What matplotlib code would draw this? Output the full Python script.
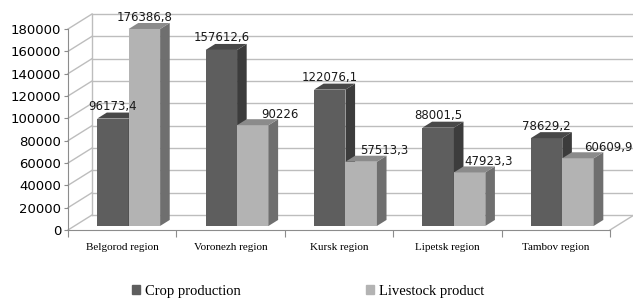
import matplotlib
matplotlib.use("Agg")
import matplotlib.pyplot as plt
from matplotlib.patches import Polygon, Patch

# data
regions = ["Belgorod region", "Voronezh region", "Kursk region", "Lipetsk region", "Tambov region"]
crop = [96173.4, 157612.6, 122076.1, 88001.5, 78629.2]
livestock = [176386.8, 90226, 57513.3, 47923.3, 60609.9]
crop_labels = ["96173,4", "157612,6", "122076,1", "88001,5", "78629,2"]
live_labels = ["176386,8", "90226", "57513,3", "47923,3", "60609,9"]
yticks = list(range(0, 180001, 20000))

# look
W, H = 633, 298
grid_c = "#bdbdbd"
axis_c = "#8c8c8c"
crop_c = ("#5e5e5e", "#3c3c3c", "#484848")   # front, side, top
live_c = ("#b3b3b3", "#6f6f6f", "#8b8b8b")
live_dx_px = [0, 27, 23, 19, 30]  # excel shoved the livestock labels sideways

fig = plt.figure(figsize=(W / 100, H / 100), dpi=100)
ax = fig.add_axes([68 / W, (H - 230) / H, 542 / W, 201 / H])
ax.set_xlim(0, 5)
ax.set_ylim(0, 180000)

# oblique "3d" offset of the back wall, in data units
DX = 24 / (542 / 5)
DY = 15 / (201 / 180000)
d0, d1 = 0.27, 0.40  # bar front depth, bar thickness (fraction of wall depth)
bw = 0.29

# walls
for v in yticks:
    ax.plot([0, DX], [v, v + DY], color=grid_c, lw=1, clip_on=False, zorder=0)
    ax.plot([DX, 5 + DX], [v + DY, v + DY], color=grid_c, lw=1, clip_on=False, zorder=0)
ax.plot([DX, DX], [DY, 180000 + DY], color=grid_c, lw=1, clip_on=False, zorder=0)
ax.plot([5, 5 + DX], [0, DY], color=grid_c, lw=1, clip_on=False, zorder=0)


def bar3d(x0, h, cols):
    fx = x0 + d0 * DX
    fy = d0 * DY
    ax.bar(fx, h, width=bw, bottom=fy, align="edge", color=cols[0], lw=0, zorder=2, clip_on=False)
    ox, oy = d1 * DX, d1 * DY
    side = [(fx + bw, fy), (fx + bw + ox, fy + oy), (fx + bw + ox, fy + h + oy), (fx + bw, fy + h)]
    top = [(fx, fy + h), (fx + ox, fy + h + oy), (fx + bw + ox, fy + h + oy), (fx + bw, fy + h)]
    ax.add_patch(Polygon(side, closed=True, fc=cols[1], ec="none", zorder=2, clip_on=False))
    ax.add_patch(Polygon(top, closed=True, fc=cols[2], ec="none", zorder=2, clip_on=False))
    return fx + bw / 2, fy + h


for i in range(len(regions)):
    cx, cy = bar3d(i + 0.5 - bw, crop[i], crop_c)
    ax.annotate(crop_labels[i], (cx, cy), xytext=(0, 12 * 0.72), textcoords="offset points",
                ha="center", va="center", fontsize=8.5, family="DejaVu Sans", color="#1a1a1a",
                zorder=5, annotation_clip=False)
    cx, cy = bar3d(i + 0.5, livestock[i], live_c)
    ax.annotate(live_labels[i], (cx, cy), xytext=(live_dx_px[i] * 0.72, 11 * 0.72),
                textcoords="offset points", ha="center", va="center", fontsize=8.5,
                family="DejaVu Sans", color="#1a1a1a", zorder=5, annotation_clip=False)

# axes
for s in ["top", "right"]:
    ax.spines[s].set_visible(False)
for s in ["left", "bottom"]:
    ax.spines[s].set_color(axis_c)
ax.set_yticks(yticks)
ax.set_yticklabels([str(v) for v in yticks], fontsize=9.5, family="DejaVu Sans")
ax.tick_params(axis="y", length=3, color=axis_c, pad=2)
ax.set_xticks(range(6))
ax.set_xticklabels([""] * 6)
ax.tick_params(axis="x", length=5, color=axis_c)
ax.set_xticks([i + 0.5 for i in range(5)], minor=True)
ax.set_xticklabels(regions, minor=True, fontsize=8, family="Liberation Serif")
ax.tick_params(axis="x", which="minor", length=0, pad=9)

handles = [Patch(color=crop_c[0], label="Crop production"),
           Patch(color=live_c[0], label="Livestock product")]
fig.legend(handles=handles, loc="center", bbox_to_anchor=(308 / W, 7 / H), ncol=2,
           frameon=False, prop={"family": "Liberation Serif", "size": 10.5},
           handlelength=0.55, handleheight=0.55, handletextpad=0.35, columnspacing=8.6)

fig.savefig("out.png", dpi=100)
